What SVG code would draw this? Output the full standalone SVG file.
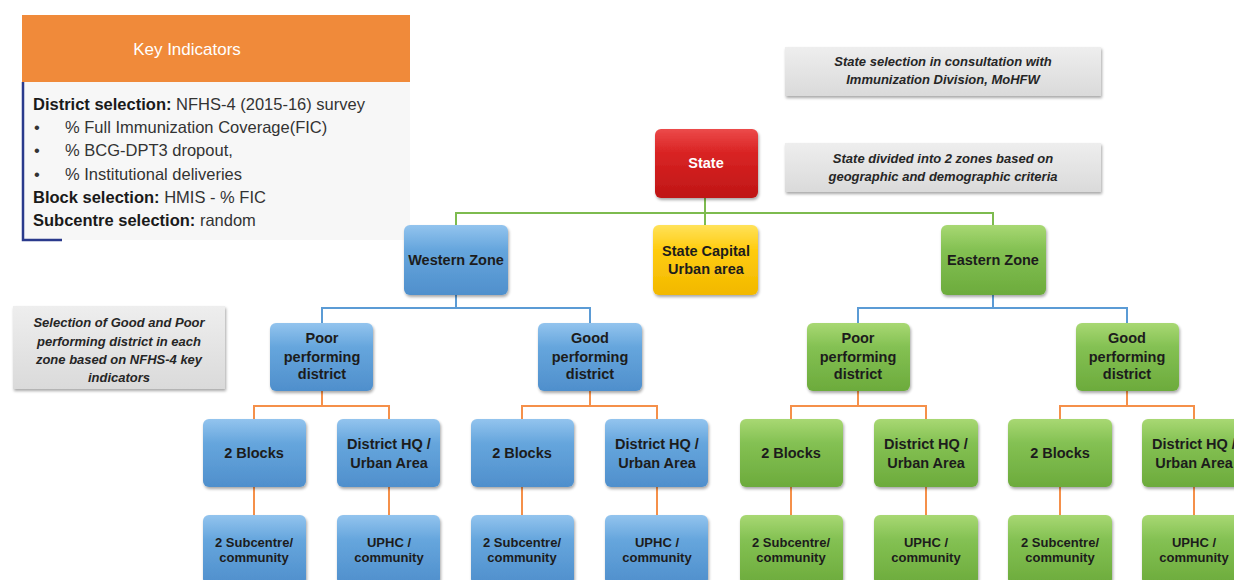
<svg xmlns="http://www.w3.org/2000/svg" width="1234" height="580" viewBox="0 0 1234 580">
  <defs>
    <linearGradient id="gBlue" x1="0" y1="0" x2="0" y2="1">
      <stop offset="0" stop-color="#93c4ee"/>
      <stop offset="0.35" stop-color="#66a6dd"/>
      <stop offset="1" stop-color="#4f8fcc"/>
    </linearGradient>
    <linearGradient id="gGreen" x1="0" y1="0" x2="0" y2="1">
      <stop offset="0" stop-color="#a8d873"/>
      <stop offset="0.35" stop-color="#84c153"/>
      <stop offset="1" stop-color="#6cab3c"/>
    </linearGradient>
    <linearGradient id="gRed" x1="0" y1="0" x2="0" y2="1">
      <stop offset="0" stop-color="#ec4a4a"/>
      <stop offset="0.35" stop-color="#d92323"/>
      <stop offset="1" stop-color="#bf1616"/>
    </linearGradient>
    <linearGradient id="gYellow" x1="0" y1="0" x2="0" y2="1">
      <stop offset="0" stop-color="#ffe25a"/>
      <stop offset="0.35" stop-color="#ffcc10"/>
      <stop offset="1" stop-color="#f2b800"/>
    </linearGradient>
    <linearGradient id="gNote" x1="0" y1="0" x2="0" y2="1">
      <stop offset="0" stop-color="#eeeeee"/>
      <stop offset="1" stop-color="#dadada"/>
    </linearGradient>
    <filter id="shadow" x="-10%" y="-10%" width="125%" height="130%">
      <feGaussianBlur in="SourceAlpha" stdDeviation="1.5"/>
      <feOffset dx="1" dy="2" result="o"/>
      <feComponentTransfer><feFuncA type="linear" slope="0.35"/></feComponentTransfer>
      <feMerge><feMergeNode/><feMergeNode in="SourceGraphic"/></feMerge>
    </filter>
  </defs>
  <style>
    .node { stroke: none; filter: url(#shadow); }
    .blue { fill: url(#gBlue); }
    .green { fill: url(#gGreen); }
    .red { fill: url(#gRed); }
    .yellow { fill: url(#gYellow); }
    .note { fill: url(#gNote); filter: url(#shadow); }
    .lbl { font-family: "Liberation Sans", Arial, sans-serif; font-weight: bold; font-size: 14.5px; fill: #1c1c1c; text-anchor: middle; }
    .sm { font-size: 13px; }
    .noteTxt { font-family: "Liberation Sans", Arial, sans-serif; font-weight: bold; font-style: italic; font-size: 13px; fill: #262626; text-anchor: middle; }
    .key { font-family: "Liberation Sans", Arial, sans-serif; font-size: 16.5px; fill: #333333; }
    .key .b { font-weight: bold; fill: #1a1a1a; }
    .cg { stroke: #7dbb4f; stroke-width: 2; fill: none; }
    .cb { stroke: #5b9bd5; stroke-width: 2; fill: none; }
    .co { stroke: #f5904a; stroke-width: 2; fill: none; }
  </style>

  <rect width="1234" height="580" fill="#ffffff"/>

  <!-- Key indicators panel -->
  <g id="key-indicators">
    <rect x="22" y="15" width="388" height="67" fill="#f08a3a"/>
    <text x="187" y="55" font-family="Liberation Sans, Arial, sans-serif" font-size="17" fill="#ffffff" text-anchor="middle">Key Indicators</text>
    <rect x="23" y="82" width="387" height="158" fill="#f7f7f7"/>
    <path d="M23 82 V240 H62" stroke="#2a3a8c" stroke-width="2.5" fill="none"/>
    <text class="key" x="33" y="110"><tspan class="b">District selection:</tspan> NFHS-4 (2015-16) survey</text>
    <text class="key" x="34" y="133">•</text>
    <text class="key" x="65" y="133">% Full  Immunization Coverage(FIC)</text>
    <text class="key" x="34" y="156">•</text>
    <text class="key" x="65" y="156">% BCG-DPT3 dropout,</text>
    <text class="key" x="34" y="180">•</text>
    <text class="key" x="65" y="180">% Institutional deliveries</text>
    <text class="key" x="33" y="203"><tspan class="b">Block selection:</tspan> HMIS - % FIC</text>
    <text class="key" x="33" y="226"><tspan class="b">Subcentre selection:</tspan> random</text>
  </g>

  <!-- Side notes -->
  <g id="note-state-selection">
    <rect class="note" x="785" y="47" width="316" height="49"/>
    <text class="noteTxt" x="943" y="66">State selection in consultation with</text>
    <text class="noteTxt" x="943" y="84">Immunization Division, MoHFW</text>
  </g>
  <g id="note-zones">
    <rect class="note" x="785" y="143" width="316" height="49"/>
    <text class="noteTxt" x="943" y="163">State divided into 2 zones based on</text>
    <text class="noteTxt" x="943" y="181">geographic and demographic criteria</text>
  </g>
  <g id="note-districts">
    <rect class="note" x="13" y="306" width="212" height="83"/>
    <text class="noteTxt" x="119" y="327">Selection of Good and Poor</text>
    <text class="noteTxt" x="119" y="346">performing district in each</text>
    <text class="noteTxt" x="119" y="364">zone based on NFHS-4 key</text>
    <text class="noteTxt" x="119" y="382">indicators</text>
  </g>

  <!-- Connectors -->
  <g id="connectors">
    <path class="cg" d="M705 198 V226 M456 226 V213 H993 V226"/>
    <path class="cb" d="M456 295 V308 M322 323 V308 H590 V323"/>
    <path class="cb" d="M993 295 V308 M858 323 V308 H1127 V323"/>
    <path class="co" d="M322 391 V406 M254 419 V406 H389 V419"/>
    <path class="co" d="M590 391 V406 M522 419 V406 H657 V419"/>
    <path class="co" d="M858 391 V406 M791 419 V406 H926 V419"/>
    <path class="co" d="M1127 391 V406 M1060 419 V406 H1194 V419"/>
    <path class="co" d="M254 487 V515 M389 487 V515 M522 487 V515 M657 487 V515 M791 487 V515 M926 487 V515 M1060 487 V515 M1194 487 V515"/>
  </g>

  <!-- Top level -->
  <g id="state">
    <rect class="node red" x="655" y="129" width="103" height="69" rx="6"/>
    <text class="lbl" x="706" y="168" style="fill:#ffffff">State</text>
  </g>
  <g id="western-zone">
    <rect class="node blue" x="404" y="225" width="104" height="70" rx="6"/>
    <text class="lbl" x="456" y="265">Western Zone</text>
  </g>
  <g id="state-capital">
    <rect class="node yellow" x="653" y="225" width="105" height="70" rx="6"/>
    <text class="lbl" x="706" y="256">State Capital</text>
    <text class="lbl" x="706" y="274">Urban area</text>
  </g>
  <g id="eastern-zone">
    <rect class="node green" x="941" y="225" width="105" height="70" rx="6"/>
    <text class="lbl" x="993" y="265">Eastern Zone</text>
  </g>

  <!-- District level -->
  <g id="west-poor-district">
    <rect class="node blue" x="270" y="323" width="103" height="68" rx="6"/>
    <text class="lbl" x="322" y="343">Poor</text>
    <text class="lbl" x="322" y="362">performing</text>
    <text class="lbl" x="322" y="379">district</text>
  </g>
  <g id="west-good-district">
    <rect class="node blue" x="538" y="323" width="104" height="68" rx="6"/>
    <text class="lbl" x="590" y="343">Good</text>
    <text class="lbl" x="590" y="362">performing</text>
    <text class="lbl" x="590" y="379">district</text>
  </g>
  <g id="east-poor-district">
    <rect class="node green" x="807" y="323" width="103" height="68" rx="6"/>
    <text class="lbl" x="858" y="343">Poor</text>
    <text class="lbl" x="858" y="362">performing</text>
    <text class="lbl" x="858" y="379">district</text>
  </g>
  <g id="east-good-district">
    <rect class="node green" x="1076" y="323" width="103" height="68" rx="6"/>
    <text class="lbl" x="1127" y="343">Good</text>
    <text class="lbl" x="1127" y="362">performing</text>
    <text class="lbl" x="1127" y="379">district</text>
  </g>

  <!-- Block / urban level -->
  <g id="wp-blocks">
    <rect class="node blue" x="203" y="419" width="103" height="68" rx="6"/>
    <text class="lbl" x="254" y="458">2 Blocks</text>
  </g>
  <g id="wp-hq">
    <rect class="node blue" x="337" y="419" width="103" height="68" rx="6"/>
    <text class="lbl" x="389" y="449">District HQ /</text>
    <text class="lbl" x="389" y="468">Urban Area</text>
  </g>
  <g id="wg-blocks">
    <rect class="node blue" x="471" y="419" width="103" height="68" rx="6"/>
    <text class="lbl" x="522" y="458">2 Blocks</text>
  </g>
  <g id="wg-hq">
    <rect class="node blue" x="605" y="419" width="103" height="68" rx="6"/>
    <text class="lbl" x="657" y="449">District HQ /</text>
    <text class="lbl" x="657" y="468">Urban Area</text>
  </g>
  <g id="ep-blocks">
    <rect class="node green" x="740" y="419" width="103" height="68" rx="6"/>
    <text class="lbl" x="791" y="458">2 Blocks</text>
  </g>
  <g id="ep-hq">
    <rect class="node green" x="874" y="419" width="104" height="68" rx="6"/>
    <text class="lbl" x="926" y="449">District HQ /</text>
    <text class="lbl" x="926" y="468">Urban Area</text>
  </g>
  <g id="eg-blocks">
    <rect class="node green" x="1008" y="419" width="104" height="68" rx="6"/>
    <text class="lbl" x="1060" y="458">2 Blocks</text>
  </g>
  <g id="eg-hq">
    <rect class="node green" x="1142" y="419" width="104" height="68" rx="6"/>
    <text class="lbl" x="1194" y="449">District HQ /</text>
    <text class="lbl" x="1194" y="468">Urban Area</text>
  </g>

  <!-- Community level -->
  <g id="wp-subcentre">
    <rect class="node blue" x="203" y="515" width="103" height="70" rx="6"/>
    <text class="lbl sm" x="254" y="547">2 Subcentre/</text>
    <text class="lbl sm" x="254" y="562">community</text>
  </g>
  <g id="wp-uphc">
    <rect class="node blue" x="337" y="515" width="103" height="70" rx="6"/>
    <text class="lbl sm" x="389" y="547">UPHC /</text>
    <text class="lbl sm" x="389" y="562">community</text>
  </g>
  <g id="wg-subcentre">
    <rect class="node blue" x="471" y="515" width="103" height="70" rx="6"/>
    <text class="lbl sm" x="522" y="547">2 Subcentre/</text>
    <text class="lbl sm" x="522" y="562">community</text>
  </g>
  <g id="wg-uphc">
    <rect class="node blue" x="605" y="515" width="103" height="70" rx="6"/>
    <text class="lbl sm" x="657" y="547">UPHC /</text>
    <text class="lbl sm" x="657" y="562">community</text>
  </g>
  <g id="ep-subcentre">
    <rect class="node green" x="740" y="515" width="103" height="70" rx="6"/>
    <text class="lbl sm" x="791" y="547">2 Subcentre/</text>
    <text class="lbl sm" x="791" y="562">community</text>
  </g>
  <g id="ep-uphc">
    <rect class="node green" x="874" y="515" width="104" height="70" rx="6"/>
    <text class="lbl sm" x="926" y="547">UPHC /</text>
    <text class="lbl sm" x="926" y="562">community</text>
  </g>
  <g id="eg-subcentre">
    <rect class="node green" x="1008" y="515" width="104" height="70" rx="6"/>
    <text class="lbl sm" x="1060" y="547">2 Subcentre/</text>
    <text class="lbl sm" x="1060" y="562">community</text>
  </g>
  <g id="eg-uphc">
    <rect class="node green" x="1142" y="515" width="104" height="70" rx="6"/>
    <text class="lbl sm" x="1194" y="547">UPHC /</text>
    <text class="lbl sm" x="1194" y="562">community</text>
  </g>
</svg>
